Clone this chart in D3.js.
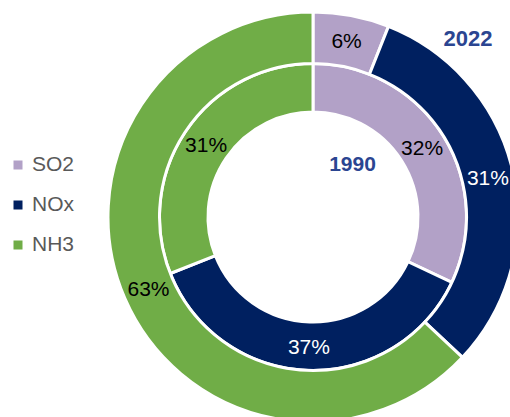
<!DOCTYPE html>
<html>
<head>
<meta charset="utf-8">
<script src="https://cdn.jsdelivr.net/npm/d3@7"></script>
<style>
  html, body { margin: 0; padding: 0; background: #fff; }
  svg { display: block; }
</style>
</head>
<body>
<svg id="chart" width="510" height="417"></svg>
<script>
const categories = ["SO2", "NOx", "NH3"];
const colors = ["#B2A1C7", "#002060", "#70AD47"];
const labelColors = ["#000000", "#ffffff", "#000000"];
const values1990 = [32, 37, 31];
const values2022 = [6, 31, 63];
const yearLabels = ["1990", "2022"];

const svg = d3.select("#chart");
const cx = 313, cy = 217;
const rings = [
  { values: values1990, r0: 105, r1: 153.5 },
  { values: values2022, r0: 153.5, r1: 205 }
];

const pie = d3.pie().sort(null).value(d => d);

rings.forEach(ring => {
  const arc = d3.arc().innerRadius(ring.r0).outerRadius(ring.r1);
  const g = svg.append("g").attr("transform", `translate(${cx},${cy})`);
  const arcs = pie(ring.values);
  g.selectAll("path").data(arcs).enter().append("path")
    .attr("d", arc)
    .attr("fill", (d, i) => colors[i])
    .attr("stroke", "#fff")
    .attr("stroke-width", 3)
    .attr("stroke-linejoin", "miter");
  g.selectAll("text").data(arcs).enter().append("text")
    .attr("transform", d => `translate(${arc.centroid(d)})`)
    .attr("text-anchor", "middle")
    .attr("dy", "0.36em")
    .attr("font-family", "Liberation Sans, Arial, sans-serif")
    .attr("font-size", 21)
    .attr("fill", (d, i) => labelColors[i])
    .text(d => d.data + "%");
});

svg.append("text")
  .attr("x", 352.5).attr("y", 171)
  .attr("text-anchor", "middle")
  .attr("font-family", "Liberation Sans, Arial, sans-serif")
  .attr("font-weight", "bold")
  .attr("font-size", 21)
  .attr("fill", "#2B4591")
  .text(yearLabels[0]);

svg.append("text")
  .attr("x", 468).attr("y", 46)
  .attr("text-anchor", "middle")
  .attr("font-family", "Liberation Sans, Arial, sans-serif")
  .attr("font-weight", "bold")
  .attr("font-size", 22)
  .attr("fill", "#2B4591")
  .text(yearLabels[1]);

const legend = svg.append("g");
const ly = d3.scalePoint().domain(categories).range([171, 251]);
const items = legend.selectAll("g").data(categories).enter().append("g");
items.append("rect")
  .attr("x", 13.5).attr("y", d => ly(d) - 10.5)
  .attr("width", 9).attr("height", 9)
  .attr("fill", (d, i) => colors[i]);
items.append("text")
  .attr("x", 32).attr("y", d => ly(d))
  .attr("font-family", "Liberation Sans, Arial, sans-serif")
  .attr("font-size", 21)
  .attr("fill", "#595959")
  .text(d => d);
</script>
</body>
</html>
